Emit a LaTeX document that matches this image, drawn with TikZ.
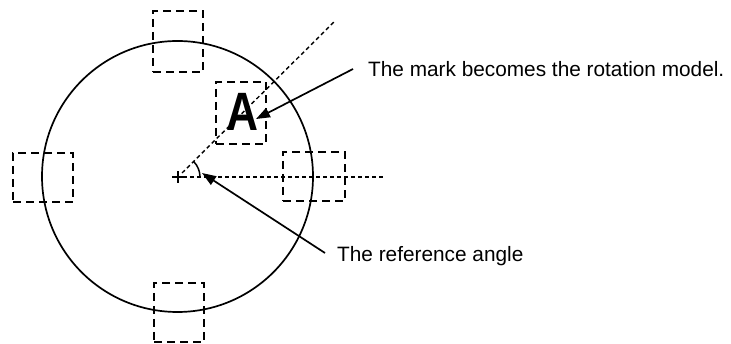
\documentclass[tikz,border=0pt]{standalone}
\usepackage{fontspec}
\setmainfont{Liberation Sans}
\usetikzlibrary{arrows.meta}
\begin{document}
\begin{tikzpicture}[x=1pt,y=1pt,
  markbox/.style={draw,line width=1.5pt,dash pattern=on 8pt off 5pt,inner sep=0pt,minimum width=#1},
  guide/.style={line width=1.4pt,dash pattern=on 4pt off 3pt},
  pointer/.style={line width=1.7pt,-{Triangle[length=14pt,width=10pt]}},
  label/.style={anchor=base west,inner sep=0pt,font=\fontsize{20.8}{24}\selectfont}
]
\useasboundingbox (0,0) rectangle (731,-344);
% circle
\node[draw,circle,line width=1.7pt,minimum size=271pt,inner sep=0pt] (c) at (177.5,-176.5) {};
\coordinate (o) at (178,-177);
% dashed boxes
\node[markbox=50pt,minimum height=61pt] (bt) at (178,-41.5) {};
\node[markbox=60pt,minimum height=49pt] (bl) at (43,-177.5) {};
\node[markbox=50pt,minimum height=59pt] (bb) at (179,-312.5) {};
\node[markbox=62pt,minimum height=49pt] (br) at (314,-176.5) {};
\node[markbox=50pt,minimum height=62pt] (ba) at (241,-113) {};
\node[inner sep=0pt] (A) at (242,-112) {\scalebox{0.82}[1]{\fontsize{54}{54}\selectfont\bfseries A}};
% guide lines
\coordinate (hend) at (383,-177);
\coordinate (dend) at (335,-21);
\draw[guide] ([xshift=5pt]o) -- (hend);
\draw[guide] ([shift={(4pt,4pt)}]o) -- (dend);
% cross
\draw[line width=1.4pt] ([xshift=-6pt]o) -- ([xshift=6pt]o) ([yshift=-6pt]o) -- ([yshift=6pt]o);
% angle arc
\draw[line width=1.5pt] ([shift={(0:22pt)}]o) arc[start angle=0,end angle=45,radius=22pt];
% labels
\node[label] (t1) at (368,-77) {The mark becomes the rotation model.};
\node[label] (t2) at (337,-262) {The reference angle};
\coordinate (s1) at (353,-69);
\coordinate (e1) at (256,-119);
\coordinate (s2) at (325,-253);
\coordinate (e2) at (202,-173);
\draw[pointer] (s1) -- (e1);
\draw[pointer] (s2) -- (e2);
\end{tikzpicture}
\end{document}
